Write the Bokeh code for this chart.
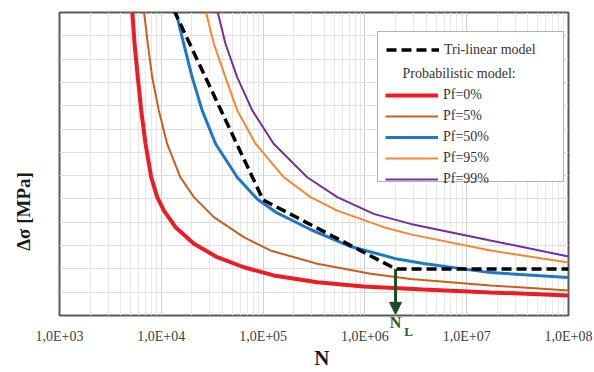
from bokeh.plotting import figure
from bokeh.models import (Range1d, FixedTicker, CustomJSTickFormatter, Legend, LegendItem,
                          Arrow, NormalHead, LogAxis)
from bokeh.embed import file_html
from bokeh.resources import INLINE

# ---------------- data ----------------
x_ticks = [1e3, 1e4, 1e5, 1e6, 1e7, 1e8]
x_tick_labels = ["1,0E+03", "1,0E+04", "1,0E+05", "1,0E+06", "1,0E+07", "1,0E+08"]
y_grid = [0, 10, 20, 30, 40, 50, 60, 70, 80, 90, 100, 110, 120, 130]

N_pf0 = [5180, 5460, 5880, 6350, 7000, 7960, 9120, 10600, 13800, 20900, 35400,
         64600, 127000, 340000, 969000, 3760000, 17100000, 100000000]
S_pf0 = [131, 116.6, 102.2, 88.0, 73.7, 59.3, 50.8, 45.0, 37.9, 30.8, 25.0,
         20.7, 17.2, 14.3, 12.4, 11.2, 9.9, 8.6]

N_pf5 = [6730, 7370, 8140, 9450, 11400, 15400, 20900, 32800, 64600, 118000,
         340000, 1140000, 2810000, 17100000, 100000000]
S_pf5 = [131, 116.6, 102.2, 88.0, 73.7, 59.3, 50.8, 42.2, 33.6, 27.9,
         22.2, 17.9, 15.7, 12.9, 10.7]

N_pf50 = [13800, 16600, 20100, 25200, 34100, 55700, 87500, 137000, 292000,
          722000, 2080000, 3760000, 17100000, 100000000]
S_pf50 = [131, 116.6, 102.2, 88.0, 73.7, 59.3, 50.0, 44.0, 36.9,
          29.6, 24.2, 22.3, 18.4, 16.3]

N_pf95 = [27200, 32800, 42700, 55700, 84200, 160000, 292000, 535000, 1530000,
          2810000, 17100000, 100000000]
S_pf95 = [131, 116.6, 102.2, 88.0, 73.7, 59.3, 50.8, 45.0, 37.9,
          34.8, 27.9, 22.7]

N_pf99 = [35400, 42700, 55700, 78200, 127000, 271000, 535000, 1220000, 2810000,
          17100000, 100000000]
S_pf99 = [131, 116.6, 102.2, 88.0, 73.7, 59.3, 50.8, 43.6, 39.3, 32.2, 25.3]

N_L = 2e6
N_L_main = "N"
N_L_sub = "L"
N_tri = [13300, 1e5, N_L, 1e8]
S_tri = [131, 49.6, 20.0, 20.0]

series_labels = ["Pf=0%", "Pf=5%", "Pf=50%", "Pf=95%", "Pf=99%"]
series_colors = ["#ed1c24", "#c5601e", "#1f77c8", "#f7862f", "#7030a0"]
series_widths = [4, 2, 3, 2, 2]

x_title = "N"
y_title = "Δσ [MPa]"

# ---------------- figure ----------------
SERIF = "Liberation Serif"
NB = "\u00a0"
p = figure(width=594, height=372, x_axis_type="log",
           x_range=Range1d(1e3, 1e8), y_range=Range1d(0, 130),
           output_backend="svg", toolbar_location=None,
           min_border_left=59, min_border_right=26, min_border_top=12,
           min_border_bottom=57)
p.outline_line_color = "#5a5a5a"
p.outline_line_width = 2


def bare(ax):
    ax.axis_line_color = None
    ax.major_tick_line_color = None
    ax.minor_tick_line_color = None
    ax.major_tick_out = 0
    ax.major_tick_in = 0
    ax.minor_tick_out = 0
    ax.minor_tick_in = 0


minor = [m * 10 ** e for e in range(3, 8) for m in range(2, 10)]
xt = FixedTicker(ticks=x_ticks, minor_ticks=minor)
main = p.xaxis[0]
main.ticker = xt
p.xgrid.ticker = xt
main.formatter = CustomJSTickFormatter(args=dict(vals=x_ticks, labs=x_tick_labels), code="""
for (let i = 0; i < vals.length; i++) {
  if (Math.abs(Math.log10(vals[i]) - Math.log10(tick)) < 1e-6) return labs[i];
}
return "";
""")
bare(main)
main.major_label_standoff = -5
main.major_label_text_font = SERIF
main.major_label_text_font_size = "14px"
main.major_label_text_color = "#404040"

green_txt = "#2b5a2b"
nl_ticker = FixedTicker(ticks=[N_L], minor_ticks=[])
axis_N = LogAxis(ticker=nl_ticker,
                 formatter=CustomJSTickFormatter(args=dict(lab=N_L_main), code="return lab;"))
bare(axis_N)
axis_N.major_label_standoff = -2
axis_N.major_label_text_font = SERIF
axis_N.major_label_text_font_style = "bold"
axis_N.major_label_text_font_size = "16px"
axis_N.major_label_text_color = green_txt

axis_L = LogAxis(ticker=nl_ticker,
                 formatter=CustomJSTickFormatter(args=dict(lab=N_L_sub),
                                                 code="return '\\u00a0'.repeat(8) + lab;"))
bare(axis_L)
axis_L.major_label_standoff = -23
axis_L.major_label_text_font = SERIF
axis_L.major_label_text_font_style = "bold"
axis_L.major_label_text_font_size = "13px"
axis_L.major_label_text_color = green_txt
axis_L.axis_label = NB * 3 + x_title
axis_L.axis_label_standoff = 4
axis_L.axis_label_text_font = SERIF
axis_L.axis_label_text_font_style = "bold"
axis_L.axis_label_text_font_size = "21px"
axis_L.axis_label_text_color = "#1a1a1a"

p.below = [axis_N, main, axis_L]

yax = p.yaxis[0]
yax.ticker = FixedTicker(ticks=[])
bare(yax)
yax.axis_label = y_title + NB * 20
yax.axis_label_standoff = 26
yax.axis_label_text_font = SERIF
yax.axis_label_text_font_style = "bold"
yax.axis_label_text_font_size = "19px"
yax.axis_label_text_color = "#1a1a1a"
p.ygrid.ticker = FixedTicker(ticks=y_grid)

p.xgrid.grid_line_color = "#cfcfcf"
p.xgrid.minor_grid_line_color = "#e8e8e8"
p.ygrid.grid_line_color = "#dedede"

# ---------------- curves ----------------
Ns = [N_pf0, N_pf5, N_pf50, N_pf95, N_pf99]
Ss = [S_pf0, S_pf5, S_pf50, S_pf95, S_pf99]
renderers = []
for N, S, c, w in zip(Ns, Ss, series_colors, series_widths):
    renderers.append(p.line(N, S, line_color=c, line_width=w))

r_tri = p.line(N_tri, S_tri, line_color="black", line_width=3.5, line_dash="10 5")
r_gap = p.line([], [], line_alpha=0)

common = dict(margin=0, glyph_width=53, label_standoff=5, label_text_font=SERIF,
              label_text_font_size="14px", label_text_color="#333333")

items_a = [LegendItem(label="Tri-linear model", renderers=[r_tri])]
items_a += [LegendItem(label=" ", renderers=[r_gap]) for _ in range(6)]
legend_a = Legend(items=items_a, location=(318, 133), padding=8, spacing=0,
                  glyph_height=19, label_height=19,
                  label_width=111, border_line_color="#666666", border_line_width=1.5,
                  background_fill_color="white", background_fill_alpha=1.0, **common)
p.add_layout(legend_a, "center")

items_b = [LegendItem(label=lab, renderers=[r]) for lab, r in zip(series_labels, renderers)]
legend_b = Legend(items=items_b, location=(326, 126), padding=0, spacing=1,
                  glyph_height=20, label_height=20,
                  title=NB * 5 + "Probabilistic model:",
                  title_text_font=SERIF, title_text_font_size="14px",
                  title_text_font_style="normal", title_text_color="#333333",
                  title_standoff=3, border_line_color=None,
                  background_fill_alpha=0.0, **common)
p.add_layout(legend_b, "center")

# ---------------- N_L arrow ----------------
green = "#1e4d1e"
p.add_layout(Arrow(end=NormalHead(size=12, fill_color=green, line_color=green),
                   x_start=N_L, y_start=S_tri[2], x_end=N_L, y_end=0.5,
                   line_color=green, line_width=3))

open("out.html", "w").write(file_html(p, INLINE))
